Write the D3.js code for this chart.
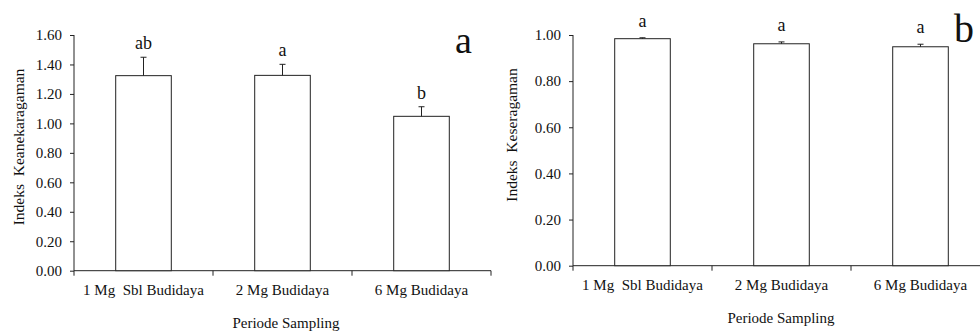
<!DOCTYPE html>
<html>
<head>
<meta charset="utf-8">
<script src="https://d3js.org/d3.v7.min.js"></script>
<style>
  body { margin: 0; background: #fff; }
  text { font-family: "Liberation Serif", "Times New Roman", serif; fill: #111; }
</style>
</head>
<body>
<script>
  // categories on the x axis (double space kept as in the original)
  var categories = ["1 Mg  Sbl Budidaya", "2 Mg Budidaya", "6 Mg Budidaya"];

  // panel a: diversity index
  var diversityValues = [1.324, 1.326, 1.048];
  var diversityErrors = [0.125, 0.075, 0.065];
  var diversityLetters = ["ab", "a", "b"];
  var diversityTicks = [0, 0.2, 0.4, 0.6, 0.8, 1.0, 1.2, 1.4, 1.6];

  // panel b: evenness index
  var evennessValues = [0.984, 0.962, 0.949];
  var evennessErrors = [0.004, 0.008, 0.011];
  var evennessLetters = ["a", "a", "a"];
  var evennessTicks = [0, 0.2, 0.4, 0.6, 0.8, 1.0];

  var svg = d3.select("body")
    .append("svg")
    .attr("width", 980)
    .attr("height", 332);

  function drawPanel(p) {
    var g = svg.append("g");

    var x = d3.scaleBand()
      .domain(categories)
      .range([p.left, p.right])
      .padding(0);

    var y = d3.scaleLinear()
      .domain([0, p.max])
      .range([p.bottom, p.top]);

    var barW = x.bandwidth() * 0.4;
    var rows = categories.map(function(c, i) {
      return { cat: c, v: p.values[i], e: p.errors[i], l: p.letters[i] };
    });

    // y axis
    var yAxis = g.append("g")
      .attr("transform", "translate(" + p.left + ",0)")
      .call(d3.axisLeft(y)
        .tickValues(p.ticks)
        .tickFormat(d3.format(".2f"))
        .tickSize(4)
        .tickSizeOuter(0)
        .tickPadding(8));
    yAxis.select(".domain").remove();
    yAxis.selectAll("line").attr("stroke", "#222");
    yAxis.selectAll("text")
      .style("font-family", "Liberation Serif")
      .style("font-size", "15px")
      .attr("fill", "#111");

    // y axis line running a little below the x axis
    g.append("line")
      .attr("x1", p.left).attr("x2", p.left)
      .attr("y1", y(p.max)).attr("y2", p.bottom + 5)
      .attr("stroke", "#222");

    // x axis line with ticks at band edges
    g.append("line")
      .attr("x1", p.left).attr("x2", p.right)
      .attr("y1", p.bottom).attr("y2", p.bottom)
      .attr("stroke", "#222");

    g.selectAll(".xtick")
      .data(categories)
      .enter()
      .append("line")
      .attr("class", "xtick")
      .attr("x1", function(d){ return x(d) + x.bandwidth(); })
      .attr("x2", function(d){ return x(d) + x.bandwidth(); })
      .attr("y1", p.bottom)
      .attr("y2", p.bottom + 5)
      .attr("stroke", "#222");

    g.selectAll(".xlabel")
      .data(categories)
      .enter()
      .append("text")
      .attr("class", "xlabel")
      .attr("x", function(d){ return x(d) + x.bandwidth() / 2; })
      .attr("y", p.bottom + 24)
      .attr("text-anchor", "middle")
      .style("white-space", "pre")
      .style("font-size", "15px")
      .text(function(d){ return d; });

    // bars
    g.selectAll(".bar")
      .data(rows)
      .enter()
      .append("rect")
      .attr("class", "bar")
      .attr("x", function(d){ return x(d.cat) + (x.bandwidth() - barW) / 2; })
      .attr("y", function(d){ return y(d.v); })
      .attr("width", barW)
      .attr("height", function(d){ return p.bottom - y(d.v); })
      .attr("fill", "#fff")
      .attr("stroke", "#222")
      .attr("stroke-width", 1);

    // error bars (upper only)
    g.selectAll(".err")
      .data(rows)
      .enter()
      .append("line")
      .attr("class", "err")
      .attr("x1", function(d){ return x(d.cat) + x.bandwidth() / 2; })
      .attr("x2", function(d){ return x(d.cat) + x.bandwidth() / 2; })
      .attr("y1", function(d){ return y(d.v); })
      .attr("y2", function(d){ return y(d.v + d.e); })
      .attr("stroke", "#222");

    g.selectAll(".cap")
      .data(rows)
      .enter()
      .append("line")
      .attr("class", "cap")
      .attr("x1", function(d){ return x(d.cat) + x.bandwidth() / 2 - 3; })
      .attr("x2", function(d){ return x(d.cat) + x.bandwidth() / 2 + 3; })
      .attr("y1", function(d){ return y(d.v + d.e); })
      .attr("y2", function(d){ return y(d.v + d.e); })
      .attr("stroke", "#222");

    // significance letters
    g.selectAll(".letter")
      .data(rows)
      .enter()
      .append("text")
      .attr("class", "letter")
      .attr("x", function(d){ return x(d.cat) + x.bandwidth() / 2; })
      .attr("y", function(d){ return y(d.v + d.e) - p.letterGap; })
      .attr("text-anchor", "middle")
      .style("font-size", "18px")
      .text(function(d){ return d.l; });

    // axis titles
    g.append("text")
      .attr("transform", "translate(" + p.titleX + "," + p.titleY + ") rotate(-90)")
      .attr("text-anchor", "middle")
      .style("white-space", "pre")
      .style("font-size", "15.5px")
      .text(p.yTitle);

    g.append("text")
      .attr("x", p.xTitleX)
      .attr("y", p.bottom + 57)
      .attr("text-anchor", "middle")
      .style("font-size", "15px")
      .text("Periode Sampling");

    // panel letter
    g.append("text")
      .attr("x", p.tagX)
      .attr("y", p.tagY)
      .style("font-size", p.tagSize + "px")
      .text(p.tag);
  }

  drawPanel({
    left: 74, right: 491, top: 35, bottom: 270.7, max: 1.6,
    values: diversityValues, errors: diversityErrors, letters: diversityLetters,
    ticks: diversityTicks, letterGap: 8,
    yTitle: "Indeks  Keanekaragaman", titleX: 24, titleY: 147,
    xTitleX: 286, tag: "a", tagX: 455, tagY: 53, tagSize: 38
  });

  drawPanel({
    left: 573, right: 990, top: 35, bottom: 265.7, max: 1.0,
    values: evennessValues, errors: evennessErrors, letters: evennessLetters,
    ticks: evennessTicks, letterGap: 11,
    yTitle: "Indeks  Keseragaman", titleX: 517, titleY: 135,
    xTitleX: 781, tag: "b", tagX: 954, tagY: 42, tagSize: 40
  });
</script>
</body>
</html>
